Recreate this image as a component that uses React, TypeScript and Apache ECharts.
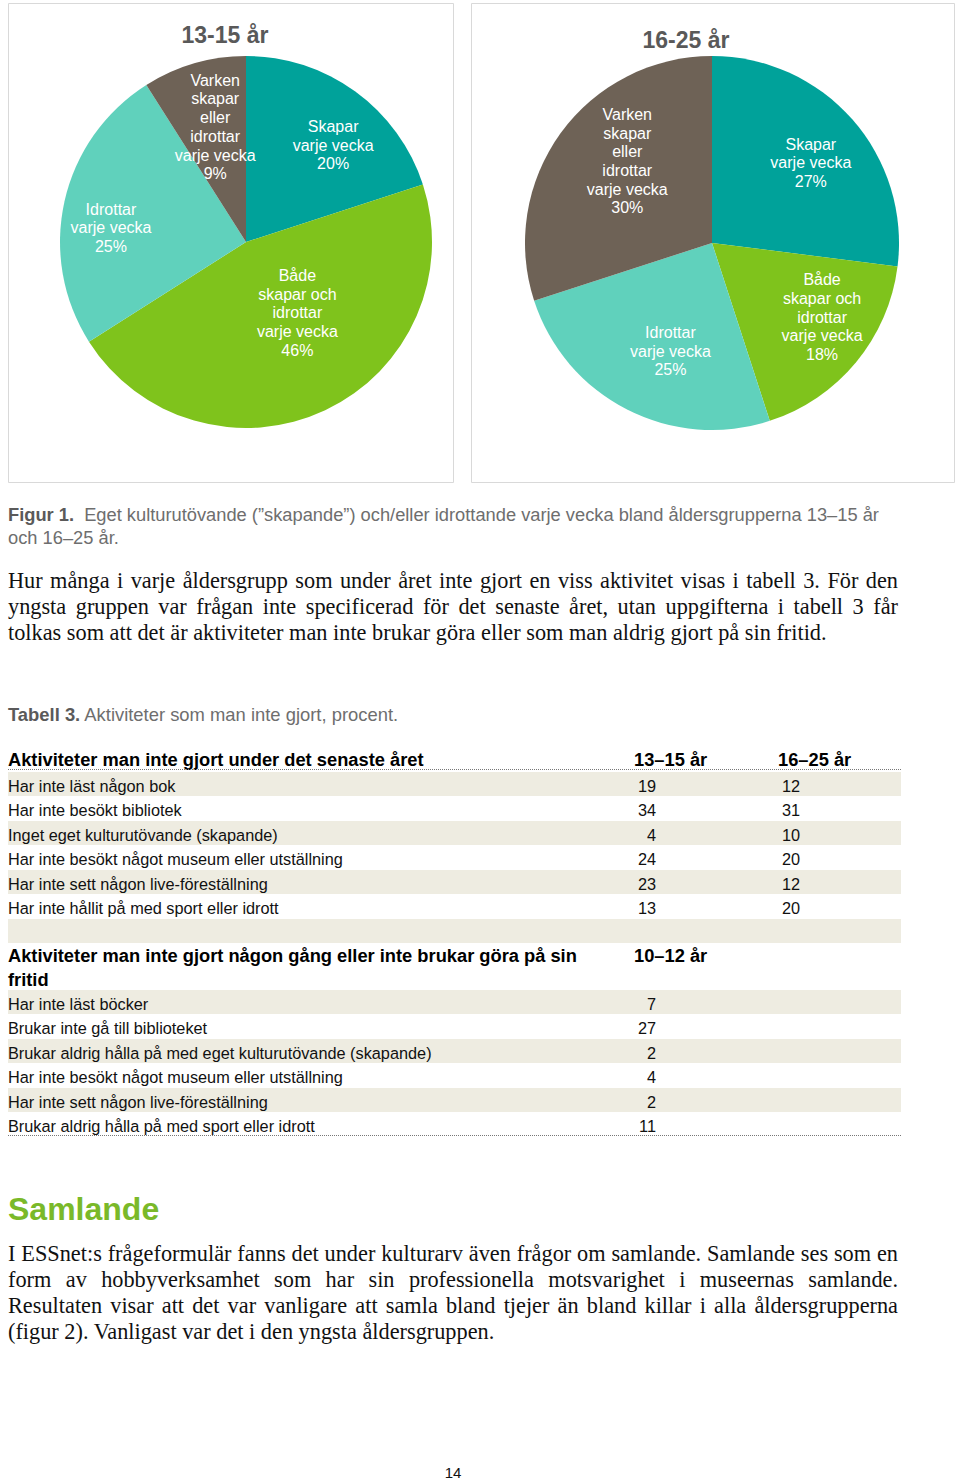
import React, { useEffect, useRef } from 'react';
import * as echarts from 'echarts';

// ---------- data ----------
const PIE_TITLES = ['13-15 år', '16-25 år'];
const PIE_CATEGORIES = [
  'Skapar\nvarje vecka',
  'Både\nskapar och\nidrottar\nvarje vecka',
  'Idrottar\nvarje vecka',
  'Varken\nskapar\neller\nidrottar\nvarje vecka',
];
const VALUES_13_15 = [20, 46, 25, 9];
const VALUES_16_25 = [27, 18, 25, 30];

const CAPTION_BOLD = 'Figur 1.';
const CAPTION_LINES = [
  'Eget kulturutövande (”skapande”) och/eller idrottande varje vecka bland åldersgrupperna 13–15 år',
  'och 16–25 år.',
];
const PARAGRAPH_1 = [
  'Hur många i varje åldersgrupp som under året inte gjort en viss aktivitet visas i tabell 3. För den',
  'yngsta gruppen var frågan inte specificerad för det senaste året, utan uppgifterna i tabell 3 får',
  'tolkas som att det är aktiviteter man inte brukar göra eller som man aldrig gjort på sin fritid.',
];
const TABLE_BOLD = 'Tabell 3.';
const TABLE_TITLE = 'Aktiviteter som man inte gjort, procent.';
const TABLE_A_HEAD = 'Aktiviteter man inte gjort under det senaste året';
const TABLE_A_COLS = ['13–15 år', '16–25 år'];
const TABLE_A_ROWS = [
  'Har inte läst någon bok',
  'Har inte besökt bibliotek',
  'Inget eget kulturutövande (skapande)',
  'Har inte besökt något museum eller utställning',
  'Har inte sett någon live-föreställning',
  'Har inte hållit på med sport eller idrott',
];
const TABLE_A_13_15 = [19, 34, 4, 24, 23, 13];
const TABLE_A_16_25 = [12, 31, 10, 20, 12, 20];
const TABLE_B_HEAD = ['Aktiviteter man inte gjort någon gång eller inte brukar göra på sin', 'fritid'];
const TABLE_B_COL = '10–12 år';
const TABLE_B_ROWS = [
  'Har inte läst böcker',
  'Brukar inte gå till biblioteket',
  'Brukar aldrig hålla på med eget kulturutövande (skapande)',
  'Har inte besökt något museum eller utställning',
  'Har inte sett någon live-föreställning',
  'Brukar aldrig hålla på med sport eller idrott',
];
const TABLE_B_10_12 = [7, 27, 2, 4, 2, 11];
const HEADING = 'Samlande';
const PARAGRAPH_2 = [
  'I ESSnet:s frågeformulär fanns det under kulturarv även frågor om samlande. Samlande ses som en',
  'form av hobbyverksamhet som har sin professionella motsvarighet i museernas samlande.',
  'Resultaten visar att det var vanligare att samla bland tjejer än bland killar i alla åldersgrupperna',
  '(figur 2). Vanligast var det i den yngsta åldersgruppen.',
];
const PAGE_NUMBER = '14';

// ---------- style ----------
const SANS = '"Liberation Sans", Arial, Helvetica, sans-serif';
const SERIF = '"Liberation Serif", "Times New Roman", serif';
const SLICE_COLORS = ['#00A29A', '#7FC31C', '#60D1BC', '#6E6256'];
const BAND = '#EEECE1';
const GREEN = '#7AB929';
const SERIF_SIZE = 22.3;
// label placement per slice: [angle from 12 o'clock in degrees, fraction of radius]
const LABEL_POS = [
  [[42, 0.7], [144, 0.47], [276, 0.73], [345, 0.64]],
  [[51, 0.68], [124, 0.71], [201, 0.62], [314, 0.63]],
];
const PIES = [
  { cx: 246, cy: 242, r: 186, titleX: 225, titleY: 35 },
  { cx: 712, cy: 243, r: 187, titleX: 686, titleY: 40 },
];

let measureCtx: CanvasRenderingContext2D | null = null;
function measure(text: string, size: number, family: string, weight = 'normal') {
  if (!measureCtx) measureCtx = document.createElement('canvas').getContext('2d');
  measureCtx!.font = `${weight} ${size}px ${family}`;
  return measureCtx!.measureText(text).width;
}

function txt(x: number, y: number, text: string, size: number, opts: any = {}) {
  return {
    type: 'text',
    x,
    y,
    silent: true,
    style: {
      text,
      fontSize: size,
      fontFamily: opts.family || SANS,
      fontWeight: opts.weight || 'normal',
      fill: opts.fill || '#000',
      align: opts.align || 'left',
      verticalAlign: 'middle',
      rich: opts.rich,
    },
  };
}

function justified(lines: string[], x0: number, width: number, y0: number, lh: number, size: number) {
  const els: any[] = [];
  lines.forEach((line, li) => {
    const y = y0 + li * lh;
    if (li === lines.length - 1) {
      els.push(txt(x0, y, line, size, { family: SERIF, fill: '#111' }));
      return;
    }
    const words = line.split(' ');
    const ws = words.map((w) => measure(w, size, SERIF));
    const total = ws.reduce((a, b) => a + b, 0);
    const gap = (width - total) / (words.length - 1);
    let x = x0;
    words.forEach((w, i) => {
      els.push(txt(x, y, w, size, { family: SERIF, fill: '#111' }));
      x += ws[i] + gap;
    });
  });
  return els;
}

function buildGraphic() {
  const g: any[] = [];
  // panels
  g.push({ type: 'rect', shape: { x: 8.5, y: 3.5, width: 445, height: 479 }, style: { fill: 'none', stroke: '#D9D9D9', lineWidth: 1 }, silent: true });
  g.push({ type: 'rect', shape: { x: 471.5, y: 3.5, width: 483, height: 479 }, style: { fill: 'none', stroke: '#D9D9D9', lineWidth: 1 }, silent: true });
  PIES.forEach((p, i) => g.push(txt(p.titleX, p.titleY, PIE_TITLES[i], 23, { weight: 'bold', fill: '#595959', align: 'center' })));

  // caption
  const capRich = { b: { fontWeight: 'bold', fill: '#5A5A5A', fontSize: 18.3, fontFamily: SANS } };
  g.push(txt(8, 514, `{b|${CAPTION_BOLD}}  ${CAPTION_LINES[0]}`, 18.3, { fill: '#6E6E6E', rich: capRich }));
  g.push(txt(8, 537, CAPTION_LINES[1], 18.3, { fill: '#6E6E6E' }));

  // paragraph 1
  g.push(...justified(PARAGRAPH_1, 8, 890, 580, 26, SERIF_SIZE));

  // table title
  const tRich = { b: { fontWeight: 'bold', fill: '#5A5A5A', fontSize: 18.4, fontFamily: SANS } };
  g.push(txt(8, 714, `{b|${TABLE_BOLD}} ${TABLE_TITLE}`, 18.4, { fill: '#6E6E6E', rich: tRich }));

  const X0 = 8, X1 = 901, C2 = 634, C3 = 778, N2 = 656, N3 = 800, RH = 24.5;
  const HS = 18.3, RS = 16.3;
  // table A
  g.push(txt(X0, 759, TABLE_A_HEAD, HS, { weight: 'bold' }));
  g.push(txt(C2, 759, TABLE_A_COLS[0], HS, { weight: 'bold' }));
  g.push(txt(C3, 759, TABLE_A_COLS[1], HS, { weight: 'bold' }));
  g.push({ type: 'line', shape: { x1: X0, y1: 769.5, x2: X1, y2: 769.5 }, style: { stroke: '#777', lineWidth: 1, lineDash: [1, 1] }, silent: true });
  const aTop = 772;
  for (let i = 0; i <= TABLE_A_ROWS.length; i++) {
    const top = aTop + i * RH;
    if (i % 2 === 0) g.push({ type: 'rect', shape: { x: X0, y: top, width: X1 - X0, height: RH - 0.5 }, style: { fill: BAND }, silent: true });
  }
  TABLE_A_ROWS.forEach((r, i) => {
    const y = aTop + i * RH + 13.5;
    g.push(txt(X0, y, r, RS, { fill: '#111' }));
    g.push(txt(N2, y, String(TABLE_A_13_15[i]), RS, { fill: '#111', align: 'right' }));
    g.push(txt(N3, y, String(TABLE_A_16_25[i]), RS, { fill: '#111', align: 'right' }));
  });

  // table B
  g.push(txt(X0, 955, TABLE_B_HEAD[0], HS, { weight: 'bold' }));
  g.push(txt(X0, 979, TABLE_B_HEAD[1], HS, { weight: 'bold' }));
  g.push(txt(C2, 955, TABLE_B_COL, HS, { weight: 'bold' }));
  const bTop = 990;
  TABLE_B_ROWS.forEach((r, i) => {
    const top = bTop + i * RH;
    if (i % 2 === 0) g.push({ type: 'rect', shape: { x: X0, y: top, width: X1 - X0, height: RH - 0.5 }, style: { fill: BAND }, silent: true });
  });
  TABLE_B_ROWS.forEach((r, i) => {
    const y = bTop + i * RH + 13.5;
    g.push(txt(X0, y, r, RS, { fill: '#111' }));
    g.push(txt(N2, y, String(TABLE_B_10_12[i]), RS, { fill: '#111', align: 'right' }));
  });
  g.push({ type: 'line', shape: { x1: X0, y1: 1135.5, x2: X1, y2: 1135.5 }, style: { stroke: '#777', lineWidth: 1, lineDash: [1, 1] }, silent: true });

  // heading + paragraph 2
  g.push(txt(8, 1209, HEADING, 32, { weight: 'bold', fill: GREEN }));
  g.push(...justified(PARAGRAPH_2, 8, 890, 1253, 26, SERIF_SIZE));

  g.push(txt(453, 1472, PAGE_NUMBER, 15, { fill: '#111', align: 'center' }));
  return g;
}

function pieSeries(values: number[], idx: number) {
  const p = PIES[idx];
  const pos = LABEL_POS[idx];
  return {
    type: 'pie',
    center: [p.cx, p.cy],
    radius: p.r,
    startAngle: 90,
    clockwise: true,
    silent: true,
    data: values.map((v, i) => ({ name: PIE_CATEGORIES[i], value: v, itemStyle: { color: SLICE_COLORS[i] } })),
    label: {
      show: true,
      position: 'inside',
      color: '#fff',
      fontFamily: SANS,
      fontSize: 16,
      lineHeight: 18.7,
      align: 'center',
      formatter: (prm: any) => `${prm.name}\n${prm.value}%`,
    },
    labelLine: { show: false },
    labelLayout: (prm: any) => {
      const [ang, f] = pos[prm.dataIndex];
      const a = (ang * Math.PI) / 180;
      return {
        x: p.cx + f * p.r * Math.sin(a),
        y: p.cy - f * p.r * Math.cos(a),
        align: 'center',
        verticalAlign: 'middle',
      };
    },
  };
}

export default function App() {
  const ref = useRef<HTMLDivElement>(null);
  useEffect(() => {
    if (!ref.current) return;
    const chart = echarts.init(ref.current, undefined, { renderer: 'svg' });
    chart.setOption({
      animation: false,
      backgroundColor: '#fff',
      series: [pieSeries(VALUES_13_15, 0), pieSeries(VALUES_16_25, 1)],
      graphic: buildGraphic(),
    });
    return () => chart.dispose();
  }, []);
  return <div ref={ref} style={{ position: 'absolute', left: 0, top: 0, width: 960, height: 1479 }} />;
}
